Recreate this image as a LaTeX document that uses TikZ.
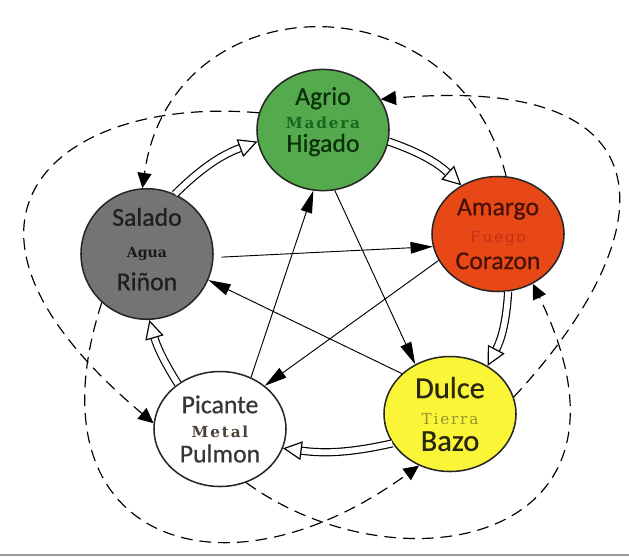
\documentclass[tikz,border=0pt]{standalone}
\usepackage{fontspec}
\usetikzlibrary{shapes.geometric,arrows.meta}
\newfontfamily\carlito[FakeBold=0.6]{Carlito}
\newfontfamily\wideserif[LetterSpace=12]{DejaVu Serif}
\newfontfamily\plainserif{DejaVu Serif}
\definecolor{maderafill}{RGB}{84,170,76}
\definecolor{maderatxt}{RGB}{12,48,12}
\definecolor{maderamid}{RGB}{20,105,30}
\definecolor{fuegofill}{RGB}{232,72,22}
\definecolor{fuegotxt}{RGB}{70,18,8}
\definecolor{fuegomid}{RGB}{200,45,25}
\definecolor{aguafill}{RGB}{116,116,116}
\definecolor{aguatxt}{RGB}{30,30,30}
\definecolor{metaltxt}{RGB}{55,55,55}
\definecolor{metalmid}{RGB}{75,65,55}
\definecolor{tierrafill}{RGB}{250,245,55}
\definecolor{tierratxt}{RGB}{40,40,15}
\definecolor{tierramid}{RGB}{150,145,50}
\begin{document}
\begin{tikzpicture}[x=0.03cm, y=0.03cm,
    elem/.style={ellipse, draw=black!85, line width=1.3pt, minimum width=3.96cm, minimum height=3.45cm, inner sep=0pt, align=center},
    gen/.style={double=white, double distance=5pt, line width=1pt, -{Triangle[length=16pt,width=16pt,fill=white]}},
    ctrl/.style={line width=0.8pt, -{Triangle[length=19pt,width=10pt]}},
    insult/.style={dash pattern=on 10pt off 6pt, line width=1pt, -{Triangle[length=13pt,width=12pt]}}]
  \fill [white] (0,0) rectangle (629,-557);
  \useasboundingbox (0,0) rectangle (629,-557);
  \draw [black!40, line width=2pt] (0,-555) -- (629,-555);
  \node [elem, fill=maderafill, text=maderatxt, text depth=18pt, font=\carlito\fontsize{22}{20}\selectfont] (agrio) at (323,-130)
    {Agrio\\{\wideserif\bfseries\color{maderamid}\fontsize{13}{13}\selectfont Madera}\\Higado};
  \node [elem, fill=fuegofill, text=fuegotxt, font=\carlito\fontsize{22}{23}\selectfont] (amargo) at (498,-234)
    {Amargo\\{\wideserif\color{fuegomid}\fontsize{13}{13}\selectfont Fuego}\\Corazon};
  \node [elem, fill=aguafill, text=aguatxt, text depth=8.5pt, font=\carlito\fontsize{22}{27.5}\selectfont] (salado) at (147,-254)
    {Salado\\{\plainserif\bfseries\color{black!90}\fontsize{12}{12}\selectfont Agua}\\Riñon};
  \node [elem, fill=white, text=metaltxt, font=\carlito\fontsize{22}{21}\selectfont] (picante) at (220,-429)
    {Picante\\{\wideserif\bfseries\color{metalmid}\fontsize{13}{13}\selectfont Metal}\\Pulmon};
  \node [elem, fill=tierrafill, text=tierratxt, font=\carlito\fontsize{26}{22.5}\selectfont] (dulce) at (450,-414)
    {Dulce\\{\wideserif\color{tierramid}\fontsize{13}{13}\selectfont Tierra}\\Bazo};
  \draw [gen] (salado.65) to[bend left=12] (agrio.190);
  \draw [gen] (agrio.350) to[bend left=12] (amargo.127);
  \draw [gen] (amargo.280) to[bend left=12] (dulce.52);
  \draw [gen] (dulce.207) to[bend left=10] (picante.343);
  \draw [gen] (picante.133) to[bend left=8] (salado.272);
  \draw [ctrl] (agrio.281) -- (dulce.125);
  \draw [ctrl] (dulce.140) -- (salado.337);
  \draw [ctrl, shorten <=0.24cm] (salado.-3) -- (amargo.191);
  \draw [ctrl] (amargo.204) -- (picante.44);
  \draw [ctrl] (picante.59) -- (agrio.261);
  \draw [insult] (amargo.82) .. controls +(104:209) and +(82:209) .. (salado.94);
  \draw [insult] (agrio.165) .. controls +(175:200) and +(140:320) .. (picante.175);
  \draw [insult] (salado.227) .. controls +(252:247) and +(216:247) .. (dulce.239);
  \draw [insult] (picante.296) .. controls +(-36:187) and +(296:291) .. (amargo.305);
  \draw [insult] (dulce.15) .. controls +(47:220) and +(5:300) .. (agrio.28);
\end{tikzpicture}
\end{document}
